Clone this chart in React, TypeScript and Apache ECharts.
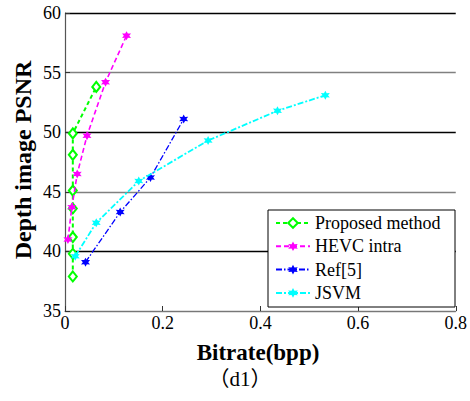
import React, { useEffect, useRef } from "react";
import * as echarts from "echarts";

const seriesNames = ["Proposed method", "HEVC intra", "Ref[5]", "JSVM"];

const proposedX = [0.016, 0.016, 0.016, 0.016, 0.016, 0.016, 0.016, 0.064];
const proposedY = [37.9, 39.8, 41.2, 43.6, 45.1, 48.1, 49.9, 53.8];

const hevcX = [0.006, 0.014, 0.025, 0.045, 0.083, 0.126];
const hevcY = [41.0, 43.7, 46.5, 49.7, 54.2, 58.1];

const refX = [0.042, 0.113, 0.175, 0.243];
const refY = [39.1, 43.3, 46.2, 51.1];

const jsvmX = [0.021, 0.064, 0.151, 0.293, 0.435, 0.533];
const jsvmY = [39.6, 42.4, 45.9, 49.3, 51.8, 53.1];

const xTicks = [0, 0.2, 0.4, 0.6, 0.8];
const yTicks = [35, 40, 45, 50, 55, 60];

const xTitle = "Bitrate(bpp)";
const yTitle = "Depth image PSNR";
const caption = "（d1）";

const STAR =
  "path://M0,-10L2.6,-4.5L8.7,-5L5.2,0L8.7,5L2.6,4.5L0,10L-2.6,4.5L-8.7,5L-5.2,0L-8.7,-5L-2.6,-4.5Z";

const serif = "Liberation Serif";

function zip(xs: number[], ys: number[]) {
  return xs.map((x, i) => [x, ys[i]]);
}

export default function App() {
  const ref = useRef<HTMLDivElement>(null);
  useEffect(() => {
    if (!ref.current) return;
    const chart = echarts.init(ref.current, null, { renderer: "svg" });
    const colors = ["#00ff00", "#ff00ff", "#0000ff", "#00ffff"];
    const datas = [
      zip(proposedX, proposedY),
      zip(hevcX, hevcY),
      zip(refX, refY),
      zip(jsvmX, jsvmY),
    ];
    const dashes: any[] = [[4, 3], [5, 3], [6, 2, 1.5, 2], [6, 2, 2, 2]];
    const widths = [2, 1.6, 1.3, 1.8];
    const series = seriesNames.map((name, i) => ({
      name,
      type: "line",
      data: datas[i],
      symbol: i === 0 ? "emptyDiamond" : STAR,
      symbolSize: i === 0 ? [8, 10] : 9,
      color: colors[i],
      itemStyle: { color: colors[i], borderColor: colors[i], borderWidth: i === 0 ? 1.5 : 0 },
      lineStyle: { color: colors[i], width: widths[i], type: dashes[i] },
      z: 2 + i,
    }));
    chart.setOption({
      animation: false,
      backgroundColor: "#fff",
      textStyle: { fontFamily: serif },
      grid: { left: 65, right: 14, top: 13, bottom: 90, containLabel: false },
      xAxis: {
        type: "value",
        min: xTicks[0],
        max: xTicks[xTicks.length - 1],
        interval: 0.2,
        axisLine: { show: true, onZero: false, lineStyle: { color: "#777", width: 1.2 } },
        axisTick: { show: true, inside: true, length: 5, lineStyle: { color: "#333" } },
        axisLabel: {
          color: "#000",
          fontFamily: serif,
          fontSize: 18,
          margin: 3,
          formatter: (v: number) => String(Math.round(v * 10) / 10),
        },
        splitLine: { show: false },
      },
      yAxis: {
        type: "value",
        min: yTicks[0],
        max: yTicks[yTicks.length - 1],
        interval: 5,
        axisLine: { show: true, onZero: false, lineStyle: { color: "#555", width: 1.2 } },
        axisTick: { show: true, inside: true, length: 5, lineStyle: { color: "#333" } },
        axisLabel: { color: "#000", fontFamily: serif, fontSize: 18, margin: 4 },
        splitLine: {
          show: true,
          lineStyle: { color: ["#808080", "#000000"], width: 1.3 },
        },
      },
      legend: {
        orient: "vertical",
        left: 271,
        top: 210,
        padding: [4, 4, 4, 4],
        itemWidth: 34,
        itemHeight: 12,
        itemGap: 5.3,
        backgroundColor: "transparent",
        borderWidth: 0,
        textStyle: { fontFamily: serif, fontSize: 18, color: "#000", lineHeight: 18 },
        data: seriesNames,
        z: 10,
      },
      graphic: [
        {
          type: "rect",
          z: 8,
          shape: { x: 268, y: 210, width: 187, height: 97 },
          style: { fill: "#fff", stroke: "#000", lineWidth: 1 },
        },
        {
          type: "text",
          x: 23,
          y: 160,
          rotation: Math.PI / 2,
          style: {
            text: yTitle,
            fontFamily: serif,
            fontWeight: "bold",
            fontSize: 24,
            fill: "#000",
            align: "center",
            verticalAlign: "middle",
          },
        },
        {
          type: "text",
          x: 258,
          y: 352,
          style: {
            text: xTitle,
            fontFamily: serif,
            fontWeight: "bold",
            fontSize: 23,
            fill: "#000",
            align: "center",
            verticalAlign: "middle",
          },
        },
        {
          type: "text",
          x: 240,
          y: 379,
          style: {
            text: caption,
            fontFamily: "Liberation Serif, Noto Sans CJK TC",
            fontSize: 21,
            fill: "#000",
            align: "center",
            verticalAlign: "middle",
          },
        },
      ],
      series,
    });
    return () => chart.dispose();
  }, []);
  return (
    <div
      ref={ref}
      style={{ position: "fixed", left: 0, top: 0, width: 470, height: 401, background: "#fff" }}
    />
  );
}
